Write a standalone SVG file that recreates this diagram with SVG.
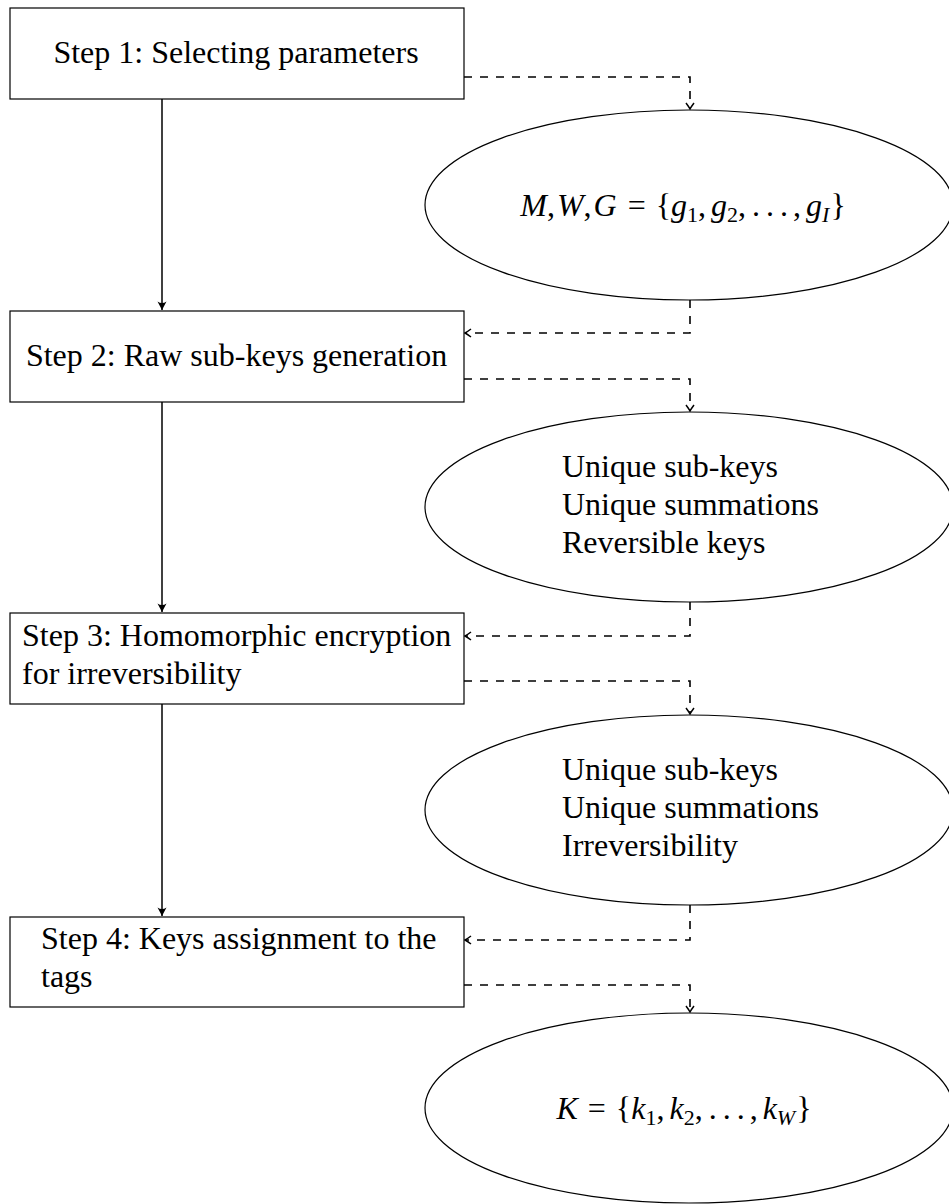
<svg xmlns="http://www.w3.org/2000/svg" width="949" height="1204" viewBox="0 0 949 1204">
<style>
  .box { fill: #fff; stroke: #000; stroke-width: 1.2; }
  .ell { fill: #fff; stroke: #000; stroke-width: 1.2; }
  .t { font-family: "Liberation Serif", "Times New Roman", serif; font-size: 32px; fill: #000; }
  .i { font-style: italic; }
  .sub { font-size: 22px; }
  .solid { fill: none; stroke: #000; stroke-width: 1.5; marker-end: url(#solidHead); }
  .dash { fill: none; stroke: #000; stroke-width: 1.6; stroke-dasharray: 8 8; marker-end: url(#openHead); }
</style>
<defs>
  <marker id="solidHead" viewBox="-9 -6 10 12" markerWidth="10" markerHeight="12" refX="0" refY="0" orient="auto" markerUnits="userSpaceOnUse">
    <path d="M0,0 L-8.5,-4.5 Q-5.5,0 -8.5,4.5 Z" fill="#000"/>
  </marker>
  <marker id="openHead" viewBox="-8 -6 9 12" markerWidth="9" markerHeight="12" refX="0" refY="0" orient="auto" markerUnits="userSpaceOnUse">
    <path d="M-6,-4 Q-2,-1 0,0 Q-2,1 -6,4" fill="none" stroke="#000" stroke-width="1.5"/>
  </marker>
</defs>

<g id="step1">
  <rect class="box" x="10" y="8" width="454" height="91"/>
  <text class="t" x="236" y="63" text-anchor="middle">Step 1: Selecting parameters</text>
</g>
<g id="params">
  <ellipse class="ell" cx="689" cy="205" rx="264" ry="95"/>
  <text class="t" x="683" y="216" text-anchor="middle"><tspan class="i">M</tspan>,<tspan class="i" dx="2">W</tspan>,<tspan class="i" dx="2">G</tspan><tspan dx="11">=</tspan><tspan dx="10">{</tspan><tspan class="i">g</tspan><tspan class="sub" dy="6">1</tspan><tspan dy="-6">,</tspan><tspan class="i" dx="5">g</tspan><tspan class="sub" dy="6">2</tspan><tspan dy="-6">,</tspan><tspan dx="6">.</tspan><tspan dx="6">.</tspan><tspan dx="6">.</tspan><tspan dx="5">,</tspan><tspan class="i" dx="5">g</tspan><tspan class="sub i" dy="6">I</tspan><tspan dy="-6" dx="1">}</tspan></text>
</g>
<g id="step2">
  <rect class="box" x="10" y="311" width="454" height="91"/>
  <text class="t" x="236.5" y="366" text-anchor="middle">Step 2: Raw sub-keys generation</text>
</g>
<g id="props1">
  <ellipse class="ell" cx="689" cy="507" rx="264" ry="95"/>
  <text class="t" x="562" y="477">Unique sub-keys</text>
  <text class="t" x="562" y="515">Unique summations</text>
  <text class="t" x="562" y="553">Reversible keys</text>
</g>
<g id="step3">
  <rect class="box" x="10" y="613" width="454" height="91"/>
  <text class="t" x="22" y="646">Step 3: Homomorphic encryption</text>
  <text class="t" x="22" y="684">for irreversibility</text>
</g>
<g id="props2">
  <ellipse class="ell" cx="689" cy="810" rx="264" ry="95"/>
  <text class="t" x="562" y="780">Unique sub-keys</text>
  <text class="t" x="562" y="818">Unique summations</text>
  <text class="t" x="562" y="856">Irreversibility</text>
</g>
<g id="step4">
  <rect class="box" x="10" y="917" width="454" height="90"/>
  <text class="t" x="41" y="949">Step 4: Keys assignment to the</text>
  <text class="t" x="41" y="987">tags</text>
</g>
<g id="keys">
  <ellipse class="ell" cx="689" cy="1108" rx="264" ry="95"/>
  <text class="t" x="684" y="1119" text-anchor="middle"><tspan class="i">K</tspan><tspan dx="10">=</tspan><tspan dx="10">{</tspan><tspan class="i">k</tspan><tspan class="sub" dy="6">1</tspan><tspan dy="-6">,</tspan><tspan class="i" dx="5">k</tspan><tspan class="sub" dy="6">2</tspan><tspan dy="-6">,</tspan><tspan dx="6">.</tspan><tspan dx="6">.</tspan><tspan dx="6">.</tspan><tspan dx="5">,</tspan><tspan class="i" dx="5">k</tspan><tspan class="sub i" dy="6">W</tspan><tspan dy="-6" dx="1">}</tspan></text>
</g>

<g id="connectors">
  <path class="solid" d="M162,99 L162,310"/>
  <path class="solid" d="M162,402 L162,612"/>
  <path class="solid" d="M162,704 L162,916"/>
  <path class="dash" d="M464,77 L690,77 L690,109"/>
  <path class="dash" d="M690,300 L690,333 L465,333"/>
  <path class="dash" d="M464,379 L690,379 L690,411"/>
  <path class="dash" d="M690,602 L690,636 L465,636"/>
  <path class="dash" d="M464,681 L690,681 L690,714"/>
  <path class="dash" d="M690,905 L690,940 L465,940"/>
  <path class="dash" d="M464,985 L690,985 L690,1012"/>
</g>
</svg>
